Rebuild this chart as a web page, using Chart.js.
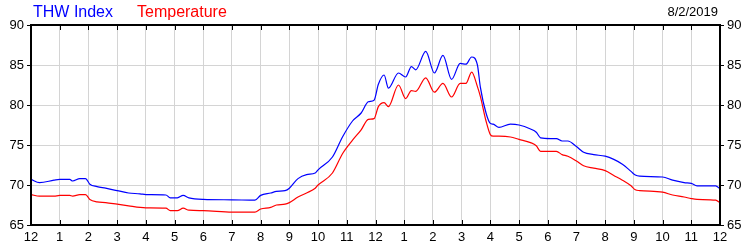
<!DOCTYPE html>
<html>
<head>
<meta charset="utf-8">
<script src="https://cdn.jsdelivr.net/npm/chart.js@4"></script>
<style>
    html, body { margin: 0; padding: 0; background: #fff; }
    #wrap { width: 750px; height: 250px; position: relative; }
</style>
</head>
<body>
<div id="wrap"><canvas id="weatherChart"></canvas></div>
<script>
// giờ trong ngày (0 = 12 giờ đêm)
const hours = [
    0, 0.3, 0.8, 1.0, 1.35, 1.45, 1.7, 1.9, 2.05, 2.3, 2.6, 3.0, 3.4, 3.8, 4.0, 4.7, 4.85, 5.1, 5.3, 5.5,
    6.0, 7.0, 7.8, 8.0, 8.35, 8.55, 8.85, 9.0, 9.3, 9.6, 9.9, 10.0, 10.5, 10.85, 11.2, 11.5, 11.75, 11.95,
    12.1, 12.3, 12.45, 12.8, 13.05, 13.25, 13.4, 13.75, 14.05, 14.35, 14.65, 14.95, 15.15, 15.35, 15.55,
    15.65, 15.85, 16.0, 16.1, 16.3, 16.7, 17.0, 17.4, 17.6, 17.75, 18.1, 18.3, 18.5, 18.7, 19.0, 19.25,
    19.6, 20.0, 20.3, 20.6, 20.9, 21.05, 21.2, 22.0, 22.35, 22.75, 23.0, 23.2, 23.85, 24.0
];
const thwIndex = [
    70.7, 70.3, 70.6, 70.7, 70.7, 70.5, 70.8, 70.8, 70.1, 69.8, 69.6, 69.3, 69.0, 68.9, 68.8, 68.75, 68.4, 68.4, 68.7, 68.4,
    68.2, 68.15, 68.1, 68.7, 69.0, 69.2, 69.3, 69.6, 70.8, 71.3, 71.5, 71.9, 73.5, 76.0, 78.0, 79.0, 80.4, 80.6,
    82.6, 83.75, 82.1, 84.0, 83.5, 84.8, 84.4, 86.7, 84.0, 86.2, 83.2, 85.2, 85.1, 86.0, 85.0,
    82.3, 79.0, 77.7, 77.6, 77.2, 77.6, 77.5, 77.0, 76.6, 75.9, 75.8, 75.8, 75.5, 75.5, 74.8, 74.1,
    73.8, 73.6, 73.2, 72.6, 71.7, 71.25, 71.1, 71.0, 70.6, 70.3, 70.2, 69.9, 69.9, 69.5
];
const temperature = [
    68.8, 68.6, 68.6, 68.7, 68.7, 68.6, 68.8, 68.8, 68.2, 67.9, 67.8, 67.6, 67.4, 67.2, 67.15, 67.1, 66.8, 66.8, 67.1, 66.85,
    66.8, 66.6, 66.6, 67.0, 67.2, 67.5, 67.6, 67.8, 68.5, 69.0, 69.6, 70.0, 71.5, 73.9, 75.6, 76.9, 78.2, 78.3,
    79.8, 80.3, 79.8, 82.5, 80.8, 81.8, 81.7, 83.4, 81.6, 82.7, 81.0, 82.7, 82.7, 84.1, 82.3,
    81.1, 78.0, 76.3, 76.1, 76.1, 76.0, 75.7, 75.3, 74.9, 74.2, 74.2, 74.2, 73.8, 73.6, 73.0, 72.4,
    72.1, 71.8, 71.2, 70.6, 69.9, 69.4, 69.3, 69.1, 68.75, 68.5, 68.3, 68.2, 68.1, 67.8
];
const yTicks = [65, 70, 75, 80, 85, 90];
const chartDate = '8/2/2019';

const FONT = 'Liberation Sans, Arial, sans-serif';

function toPoints(values) {
    return values.map((v, i) => ({ x: hours[i], y: v }));
}

function hourLabel(value) {
    const h = value % 12;
    return h === 0 ? '12' : String(h);
}

// vẽ chú thích, ngày, khung và vạch chia bên trong
const decorPlugin = {
    id: 'decor',
    afterDraw(chart) {
        const ctx = chart.ctx;
        const area = chart.chartArea;
        const xs = chart.scales.x;
        ctx.save();

        // vạch chia trên/dưới hướng vào trong
        ctx.strokeStyle = '#000';
        ctx.lineWidth = 1;
        xs.ticks.forEach(t => {
            const px = Math.round(xs.getPixelForValue(t.value)) + 0.5;
            ctx.beginPath();
            ctx.moveTo(px, area.top);
            ctx.lineTo(px, area.top + 5);
            ctx.moveTo(px, area.bottom);
            ctx.lineTo(px, area.bottom - 5);
            ctx.stroke();
        });

        // khung
        ctx.lineWidth = 2;
        ctx.strokeRect(area.left, area.top, area.right - area.left, area.bottom - area.top);

        // chú thích
        ctx.font = '16px ' + FONT;
        ctx.textBaseline = 'middle';
        ctx.textAlign = 'left';
        let x = area.left + 2;
        chart.data.datasets.forEach(ds => {
            ctx.fillStyle = ds.borderColor;
            ctx.fillText(ds.label, x, 13);
            x += ctx.measureText(ds.label).width + 24;
        });

        // ngày
        ctx.font = '13px ' + FONT;
        ctx.fillStyle = '#000';
        ctx.textAlign = 'right';
        ctx.fillText(chartDate, area.right - 2, 12);
        ctx.restore();
    }
};

const yScaleBase = {
    type: 'linear',
    min: yTicks[0],
    max: yTicks[yTicks.length - 1],
    afterBuildTicks: s => { s.ticks = yTicks.map(v => ({ value: v })); },
    border: { display: false },
    ticks: { color: '#000', font: { family: FONT, size: 13 }, padding: 3 }
};

new Chart(document.getElementById('weatherChart'), {
    type: 'line',
    data: {
        datasets: [{
            label: 'THW Index',
            data: toPoints(thwIndex),
            borderColor: '#0000ff',
            borderWidth: 1.2,
            pointRadius: 0,
            cubicInterpolationMode: 'monotone'
        }, {
            label: 'Temperature',
            data: toPoints(temperature),
            borderColor: '#ff0000',
            borderWidth: 1.2,
            pointRadius: 0,
            cubicInterpolationMode: 'monotone'
        }]
    },
    options: {
        responsive: true,
        maintainAspectRatio: false,
        animation: false,
        layout: { padding: { top: 25, left: 0, right: 0, bottom: 0 } },
        plugins: {
            legend: { display: false },
            tooltip: { enabled: false }
        },
        scales: {
            x: {
                type: 'linear',
                min: 0,
                max: 24,
                afterFit: s => { s.height = 25; },
                border: { display: false },
                grid: { color: '#d4d4d4', drawTicks: false },
                ticks: {
                    stepSize: 1,
                    color: '#000',
                    font: { family: FONT, size: 13 },
                    padding: 5,
                    maxRotation: 0,
                    autoSkip: false,
                    callback: hourLabel
                }
            },
            y: Object.assign({}, yScaleBase, {
                position: 'left',
                afterFit: s => { s.width = 31; },
                grid: { color: '#d4d4d4', tickColor: '#000', tickLength: 4 }
            }),
            y2: Object.assign({}, yScaleBase, {
                position: 'right',
                afterFit: s => { s.width = 30; },
                grid: { drawOnChartArea: false, tickColor: '#000', tickLength: 4 }
            })
        }
    },
    plugins: [decorPlugin]
});
</script>
</body>
</html>
